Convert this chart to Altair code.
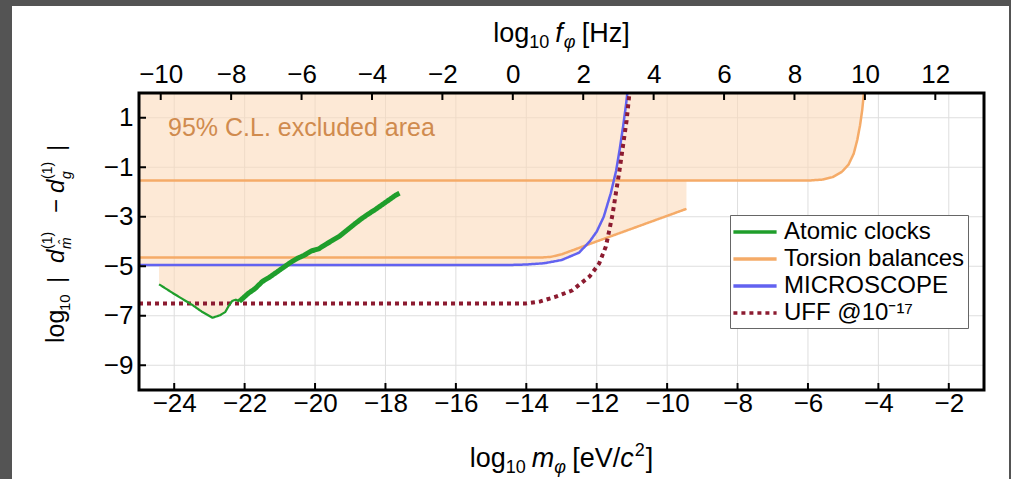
import altair as alt
import pandas as pd

# ---------------- data ----------------
m_ticks = [-24, -22, -20, -18, -16, -14, -12, -10, -8, -6, -4, -2]
f_ticks = [-10, -8, -6, -4, -2, 0, 2, 4, 6, 8, 10, 12]
y_ticks = [1, -1, -3, -5, -7, -9]

series_names = ["Atomic clocks", "Torsion balances", "MICROSCOPE", "UFF @10\u207b\u00b9\u2077"]
series_colors = ["#1f9e2b", "#f5ab68", "#6262f0", "#8c1b30"]
series_dash = [[1, 0], [1, 0], [1, 0], [4, 4]]

clock_thin_m = [-24.43, -24.0, -23.5, -23.2, -22.91, -22.7, -22.55, -22.45, -22.35, -22.25, -22.15]
clock_thin_y = [-5.73, -6.12, -6.55, -6.85, -7.08, -6.98, -6.85, -6.6, -6.4, -6.35, -6.42]
clock_thick_m = [-22.15, -21.9, -21.7, -21.5, -21.3, -21.1, -20.9, -20.7, -20.5, -20.3, -20.1,
                 -19.9, -19.7, -19.5, -19.3, -19.1, -18.9, -18.7, -18.5, -18.3, -18.1, -17.9, -17.7, -17.6]
clock_thick_y = [-6.42, -6.1, -5.9, -5.62, -5.45, -5.25, -5.05, -4.85, -4.68, -4.55, -4.38,
                 -4.3, -4.12, -3.95, -3.78, -3.55, -3.32, -3.1, -2.9, -2.72, -2.52, -2.32, -2.12, -2.05]

torsion_lo_m = [-25.0, -13.6, -13.3, -13.0, -12.2, -9.45]
torsion_lo_y = [-4.65, -4.65, -4.62, -4.52, -4.1, -2.68]
torsion_hi_m = [-25.0, -6.0, -5.6, -5.3, -5.05, -4.85, -4.7, -4.6, -4.52, -4.46, -4.41]
torsion_hi_y = [-1.54, -1.54, -1.5, -1.4, -1.2, -0.9, -0.45, 0.1, 0.7, 1.3, 2.0]

micro_m = [-25.0, -14.5, -14.0, -13.5, -13.0, -12.5, -12.2, -12.0, -11.8, -11.6, -11.45, -11.35, -11.25, -11.17, -11.13]
micro_y = [-4.95, -4.95, -4.93, -4.88, -4.75, -4.45, -4.0, -3.6, -3.0, -2.05, -1.15, -0.3, 0.65, 1.5, 2.0]

uff_m = [-25.0, -14.0, -13.6, -13.2, -12.7, -12.2, -11.93, -11.85, -11.74, -11.65, -11.55, -11.45, -11.35, -11.26, -11.15, -11.07]
uff_y = [-6.5, -6.5, -6.42, -6.25, -5.98, -5.41, -4.89, -4.6, -4.2, -3.6, -2.9, -2.0, -1.1, -0.2, 0.9, 2.0]

# lower boundary of the 95% C.L. excluded area (upper boundary is the top of the plot)
fill_m = [-25.0, -24.431, -24.43, -24.0, -23.5, -23.2, -22.91, -22.7, -22.55, -22.45, -22.35, -22.25,
          -22.15, -21.9, -21.7, -21.5, -21.3, -21.1, -20.9, -20.8, -14.5, -14.0, -13.5, -13.0, -12.5,
          -12.3, -11.0, -9.451, -9.45, -6.0, -5.6, -5.3, -5.05, -4.85, -4.7, -4.6, -4.52, -4.46, -4.41]
fill_lo = [-4.95, -4.95, -5.73, -6.12, -6.55, -6.85, -7.08, -6.98, -6.85, -6.6, -6.4, -6.35,
           -6.42, -6.1, -5.9, -5.62, -5.45, -5.25, -5.05, -4.95, -4.95, -4.93, -4.88, -4.75, -4.45,
           -4.14, -3.47, -2.68, -1.54, -1.54, -1.5, -1.4, -1.2, -0.9, -0.45, 0.1, 0.7, 1.3, 2.0]

# ---------------- layout ----------------
W, H = 845, 297
X0, Y0 = 139, 93
CW, CH = 1011, 479
M_DOMAIN = [-25, -1]
Y_DOMAIN = [-10, 2]
F_OFFSET = 14.383  # log10 f[Hz] = log10 m[eV] + log10(e/h)
FONT = "Liberation Sans"

xscale = alt.Scale(domain=M_DOMAIN, nice=False, zero=False)
yscale = alt.Scale(domain=Y_DOMAIN, nice=False, zero=False)
fscale = alt.Scale(domain=[M_DOMAIN[0] + F_OFFSET, M_DOMAIN[1] + F_OFFSET], nice=False, zero=False)

axis_common = dict(ticks=False, domain=False, grid=False, labelFontSize=26, labelFont=FONT,
                   labelColor="black", title=None, zindex=1, labelOverlap=False)
bottom_axis = alt.Axis(orient="bottom", values=m_ticks, labelPadding=0, labelFlush=False, **axis_common)
left_axis = alt.Axis(orient="left", values=y_ticks, labelPadding=6, **axis_common)
top_axis = alt.Axis(orient="top", values=f_ticks, labelPadding=6, labelFlush=False, **axis_common)


def X(field="m"):
    return alt.X(f"{field}:Q", scale=xscale, axis=bottom_axis)


def Y(field="y"):
    return alt.Y(f"{field}:Q", scale=yscale, axis=left_axis)


one = pd.DataFrame({"k": [0]})

bg = alt.Chart(one).mark_rect(color="#545454").encode(
    x=alt.value(-X0), x2=alt.value(CW - X0), y=alt.value(-Y0), y2=alt.value(CH - Y0))
card = alt.Chart(one).mark_rect(color="white").encode(
    x=alt.value(12 - X0), x2=alt.value(1009 - X0), y=alt.value(6 - Y0), y2=alt.value(CH - Y0))

grid_v = alt.Chart(pd.DataFrame({"m": m_ticks})).mark_rule(color="#dedede", strokeWidth=1).encode(x=X())
grid_h = alt.Chart(pd.DataFrame({"y": y_ticks})).mark_rule(color="#dedede", strokeWidth=1).encode(y=Y())

fill = alt.Chart(pd.DataFrame({"m": fill_m, "lo": fill_lo})).mark_area(
    color="#fbd9b9", opacity=0.58, clip=True).encode(x=X(), y=Y("lo"), y2=alt.Y2(datum=Y_DOMAIN[1]))

legend_kw = dict(orient="none", legendX=591, legendY=122, title=None,
                 labelFontSize=24, labelFont=FONT, labelColor="black",
                 symbolType="M-1.8,0H1.8", symbolSize=576, symbolStrokeWidth=3.5,
                 fillColor="white", strokeColor="#666666", padding=3,
                 rowPadding=1, labelOffset=15, symbolOffset=8, labelLimit=400)
color_enc = alt.Color("series:N", scale=alt.Scale(domain=series_names, range=series_colors),
                      legend=alt.Legend(**legend_kw))
dash_enc = alt.StrokeDash("series:N", scale=alt.Scale(domain=series_names, range=series_dash),
                          legend=alt.Legend(**legend_kw))


def series_layer(ms, ys, name, width, seg):
    df = pd.DataFrame({"m": ms, "y": ys, "series": name, "seg": seg, "w": width,
                       "i": list(range(len(ms)))})
    return alt.Chart(df).mark_line(clip=True, strokeJoin="round").encode(
        x=X(), y=Y(), color=color_enc, strokeDash=dash_enc,
        strokeWidth=alt.StrokeWidth("w:Q", scale=None), detail="seg:N", order="i:Q")


tors_lo = series_layer(torsion_lo_m, torsion_lo_y, series_names[1], 2.5, "t1")
tors_hi = series_layer(torsion_hi_m, torsion_hi_y, series_names[1], 2.5, "t2")
micro = series_layer(micro_m, micro_y, series_names[2], 2.5, "mi")
uff = series_layer(uff_m, uff_y, series_names[3], 4, "uf")
clk_thin = series_layer(clock_thin_m, clock_thin_y, series_names[0], 2.2, "c1")
clk_thick = series_layer(clock_thick_m, clock_thick_y, series_names[0], 5.0, "c2")

ticks_b = alt.Chart(pd.DataFrame({"m": m_ticks})).mark_rule(color="black", strokeWidth=2).encode(
    x=X(), y=alt.value(H), y2=alt.value(H - 7))
ticks_l = alt.Chart(pd.DataFrame({"y": y_ticks})).mark_rule(color="black", strokeWidth=2).encode(
    y=Y(), x=alt.value(0), x2=alt.value(7))
frame = alt.Chart(one).mark_rect(fill="transparent", stroke="black", strokeWidth=3).encode(
    x=alt.value(0), x2=alt.value(W), y=alt.value(0), y2=alt.value(H))

note = alt.Chart(one).mark_text(text="95% C.L. excluded area", align="left", baseline="alphabetic",
                                fontSize=25, font=FONT, color="#d08b4e").encode(
    x=alt.value(168 - X0), y=alt.value(136 - Y0))

# ---- composed titles (sub/superscripts) ----
AW = {"l": 222, "o": 556, "g": 556, "1": 556, "0": 556, "2": 556, "m": 833,
      "\u03c6": 620, "[": 278, "]": 278, "e": 556, "V": 667, "/": 278, "c": 500, "H": 722, "z": 500,
      "f": 278, "d": 556, "|": 260, "\u2212": 584, "(": 333, ")": 333, "\u0302": 0}


def tw(s, size):
    return sum(AW.get(ch, 556) for ch in s) * size / 1000.0


def piece(text, x, y, size, italic=False, angle=0):
    kw = dict(text=text, align="left", baseline="alphabetic", fontSize=size, font=FONT,
              color="black", angle=angle)
    if italic:
        kw["fontStyle"] = "italic"
    return alt.Chart(one).mark_text(**kw).encode(x=alt.value(x - X0), y=alt.value(y - Y0))


def compose_h(parts, cx, yb):
    # parts: (text, size, italic, baseline shift, gap before)
    total = sum(tw(t, s) + g for t, s, it, sh, g in parts)
    x = cx - total / 2
    out = []
    for t, s, it, sh, g in parts:
        x += g
        out.append(piece(t, x, yb + sh, s, it))
        x += tw(t, s)
    return out


title_bottom = compose_h([("log", 27, False, 0, 0), ("10", 18, False, 6, 0),
                          ("m", 27, True, 0, 6), ("\u03c6", 18, True, 6, 0), ("[eV/", 27, False, 0, 7),
                          ("c", 27, True, 0, 0), ("2", 18, False, -11, 1), ("]", 27, False, 0, 1)], 561.5, 467)
title_top = compose_h([("log", 27, False, 0, 0), ("10", 18, False, 6, 0),
                       ("f", 27, True, 0, 6), ("\u03c6", 18, True, 6, 1), ("[Hz]", 27, False, 0, 7)], 561.5, 42)

XB = 64
title_left = [
    piece("log", XB, 343, 25, False, 270),
    piece("10", XB + 6, 311, 15, False, 270),
    piece("|", XB, 283, 24, False, 270),
    piece("d", XB, 263, 24, True, 270),
    piece("(1)", XB - 12, 249, 14, False, 270),
    piece("m\u0302", XB + 7, 249, 14, True, 270),
    piece("\u2212", XB, 213, 24, False, 270),
    piece("d", XB, 193, 24, True, 270),
    piece("(1)", XB - 12, 179, 14, False, 270),
    piece("g", XB + 7, 179, 14, True, 270),
    piece("|", XB, 151, 24, False, 270),
]

inner = alt.layer(bg, card, grid_v, grid_h, fill, tors_lo, tors_hi, micro, uff, clk_thin, clk_thick,
                  ticks_b, ticks_l, frame, note, *title_bottom, *title_top, *title_left)

top = alt.Chart(pd.DataFrame({"f": f_ticks})).mark_rule(color="black", strokeWidth=2).encode(
    x=alt.X("f:Q", scale=fscale, axis=top_axis), y=alt.value(0), y2=alt.value(7))

chart = alt.layer(inner, top).resolve_scale(x="independent").properties(
    width=W, height=H, padding=0
).configure_view(stroke="transparent").configure(font=FONT)

chart.save("out.html", embed_options={"renderer": "svg", "actions": False})
